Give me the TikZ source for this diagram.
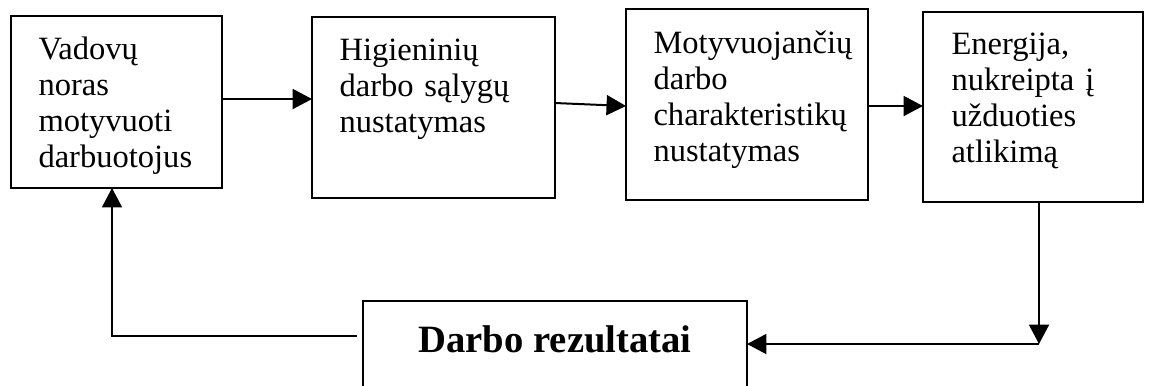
\documentclass[tikz,border=0pt]{standalone}
\usepackage{fontspec}
\setmainfont{Liberation Serif}
\usetikzlibrary{arrows.meta}

\tikzset{
  box/.style={draw, line width=1pt, rectangle, inner sep=0pt, outer sep=0pt},
  txt/.style={anchor=base west, align=left, text width=85pt, inner sep=0pt, font=\fontsize{12.2}{13.5}\selectfont},
  arr/.style={line width=0.75pt, -{Triangle[length=7.3pt,width=7.5pt]}},
}

\begin{document}
\begin{tikzpicture}[x=0.375pt,y=0.375pt,yscale=-1,xscale=1]
\useasboundingbox (0,0) rectangle (1151,385);

%Shape: Rectangle
\node[box, minimum width=79.1pt, minimum height=64.5pt] (A) at (116.5,102) {};
%Shape: Rectangle
\node[box, minimum width=91.1pt, minimum height=67.9pt] (B) at (433.5,107.5) {};
%Shape: Rectangle
\node[box, minimum width=90.75pt, minimum height=71.6pt] (C) at (747,104.5) {};
%Shape: Rectangle
\node[box, minimum width=82.5pt, minimum height=71.25pt] (D) at (1033,107) {};
%Shape: Rectangle
\node[box, minimum width=144pt, minimum height=33pt, text height=10pt, text depth=4.75pt,
  font=\fontsize{14.5}{16}\selectfont\bfseries] (E) at (555,345) {Darbo rezultatai};

% Text Node
\node[txt] (tA) at (38,59) {Vadovų\\noras\\motyvuoti\\darbuotojus};
% Text Node
\node[txt] (tB) at (339,60) {Higieninių\\darbo sąlygų\\nustatymas};
% Text Node
\node[txt] (tC) at (653,53) {Motyvuojančių\\darbo\\charakteristikų\\nustatymas};
% Text Node
\node[txt] (tD) at (951,54) {Energija,\\nukreipta į\\užduoties\\atlikimą};

\coordinate (ab) at (223,99);
\coordinate (b1) at (555,103);
\coordinate (c1) at (626,106);
\coordinate (cd) at (869,106);
\coordinate (dr) at (1039,344);
\coordinate (el) at (357,336);
\coordinate (al) at (112,336);

%Straight Lines
\draw[arr] (A.east |- ab) -- (B.west |- ab);
%Straight Lines
\draw[arr] (B.east |- b1) -- (C.west |- c1);
%Straight Lines
\draw[arr] (C.east |- cd) -- (D.west |- cd);
%Straight Lines
\draw[arr] (D.south -| dr) -- (dr);
\draw[arr] (dr) -- (E.east |- dr);
%Straight Lines
\draw[arr] (el) -- (al) -- (A.south -| al);

\end{tikzpicture}
\end{document}
